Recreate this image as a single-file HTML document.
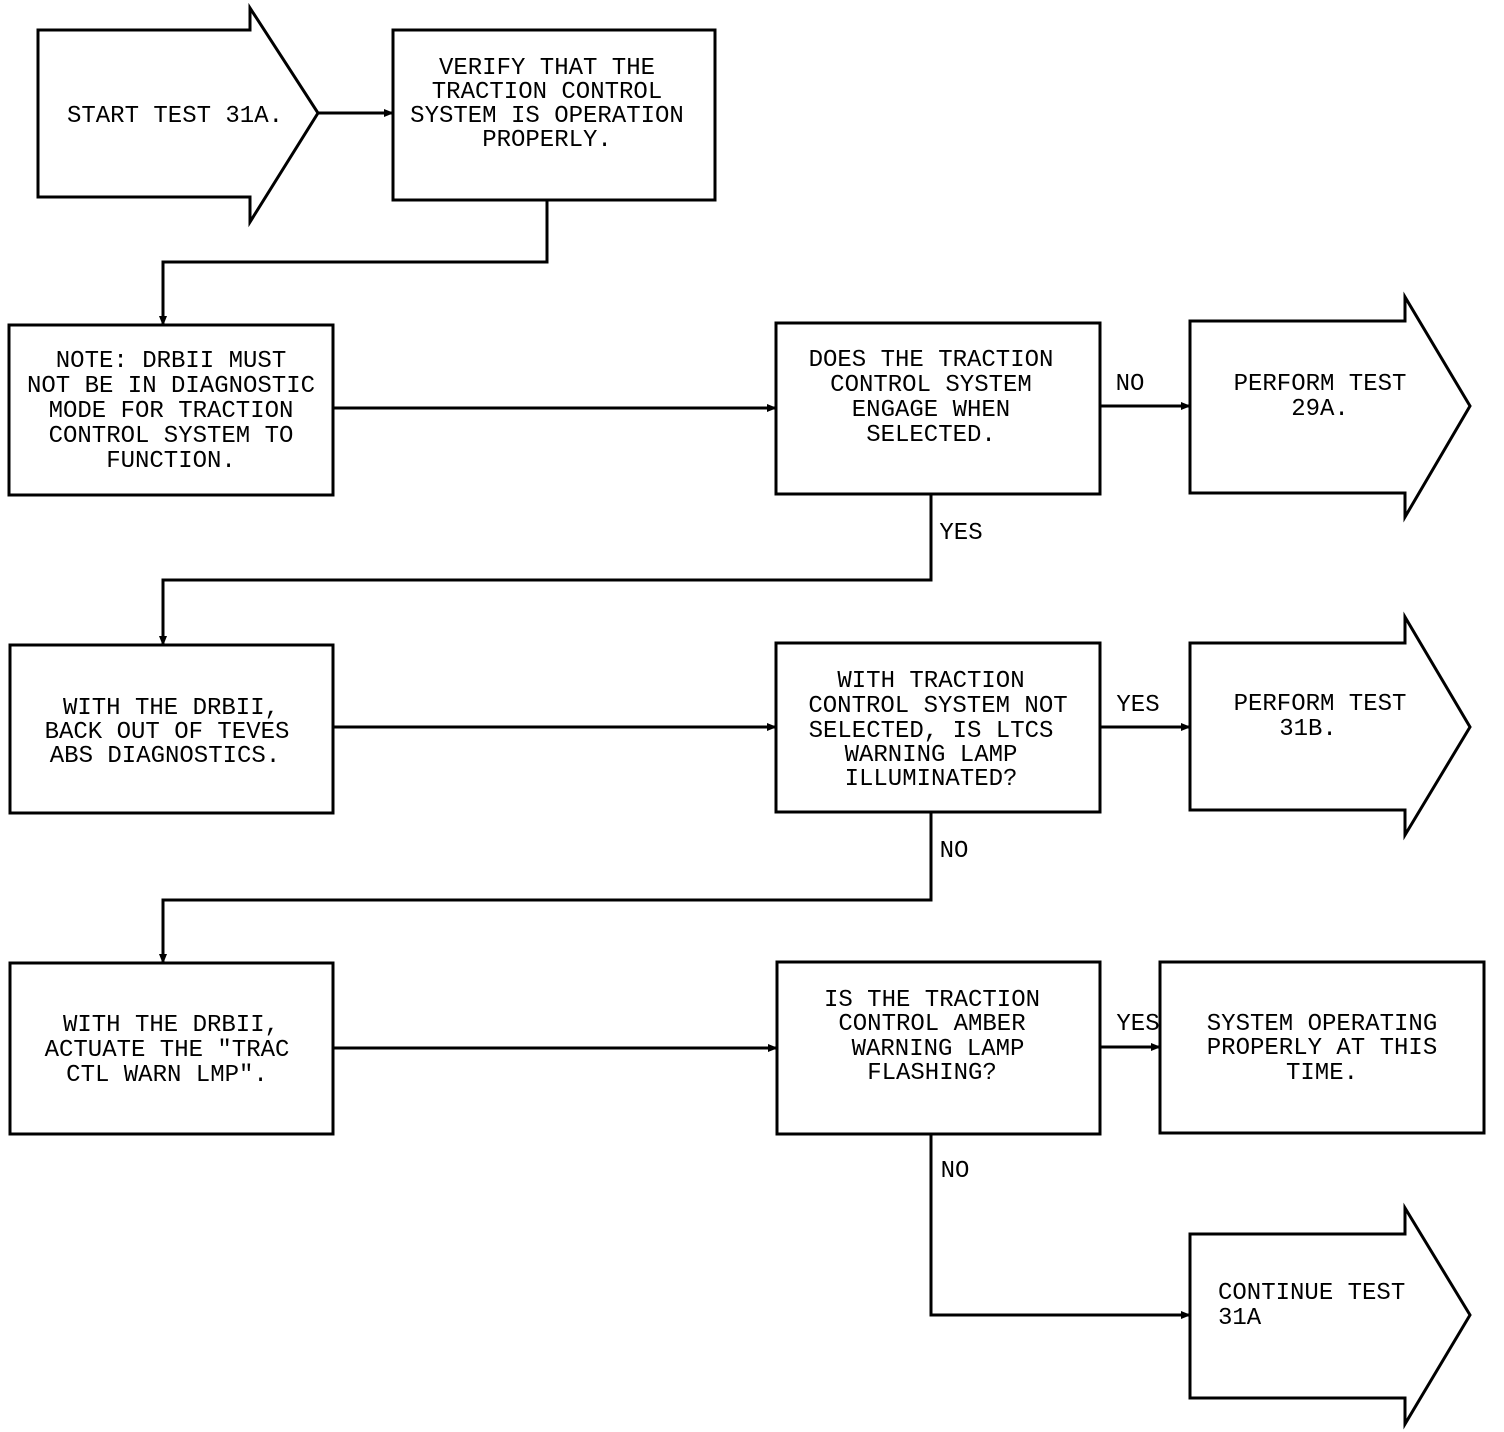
<!DOCTYPE html>
<html><head><meta charset="utf-8"><style>
html,body{margin:0;padding:0;background:#fff}
svg{display:block}
text{font-family:"Liberation Mono",monospace;font-size:24px;fill:#000;text-anchor:middle}
</style></head><body>
<svg width="1504" height="1432" viewBox="0 0 1504 1432" xmlns="http://www.w3.org/2000/svg">
<defs><marker id="a" markerWidth="10" markerHeight="8" refX="9" refY="4" orient="auto" markerUnits="userSpaceOnUse"><path d="M0,0 L10,4 L0,8z" fill="#000"/></marker></defs>
<g fill="none" stroke="#000" stroke-width="3">
<path d="M38,30 H250 V8 L318,113 L250,222 V197 H38 Z"/>
<rect x="393" y="30" width="322" height="170"/>
<rect x="9" y="325" width="324" height="170"/>
<rect x="776" y="323" width="324" height="171"/>
<path d="M1190,321 H1405 V297 L1470,406 L1405,517 V493 H1190 Z"/>
<rect x="10" y="645" width="323" height="168"/>
<rect x="776" y="643" width="324" height="169"/>
<path d="M1190,643 H1405 V617 L1470,727 L1405,835 V810 H1190 Z"/>
<rect x="10" y="963" width="323" height="171"/>
<rect x="777" y="962" width="323" height="172"/>
<rect x="1160" y="962" width="324" height="171"/>
<path d="M1190,1234 H1405 V1208 L1470,1315 L1405,1424 V1398 H1190 Z"/>
</g>
<g fill="none" stroke="#000" stroke-width="3" marker-end="url(#a)">
<path d="M318,113 H393"/>
<path d="M547,200 V262 H163 V325"/>
<path d="M333,408 H776"/>
<path d="M1100,406 H1190"/>
<path d="M931,494 V580 H163 V645"/>
<path d="M333,727 H776"/>
<path d="M1100,727 H1190"/>
<path d="M931,812 V900 H163 V963"/>
<path d="M333,1048 H777"/>
<path d="M1100,1047 H1160"/>
<path d="M931,1134 V1315 H1190"/>
</g>
<text x="175" y="122">START TEST 31A.</text>
<text x="547" y="74">VERIFY THAT THE</text>
<text x="547" y="98">TRACTION CONTROL</text>
<text x="547" y="122">SYSTEM IS OPERATION</text>
<text x="547" y="146">PROPERLY.</text>
<text x="171" y="367">NOTE:  DRBII MUST</text>
<text x="171" y="392">NOT BE IN DIAGNOSTIC</text>
<text x="171" y="417">MODE FOR TRACTION</text>
<text x="171" y="442">CONTROL SYSTEM TO</text>
<text x="171" y="467">FUNCTION.</text>
<text x="931" y="366">DOES THE TRACTION</text>
<text x="931" y="391">CONTROL SYSTEM</text>
<text x="931" y="416">ENGAGE WHEN</text>
<text x="931" y="441">SELECTED.</text>
<text x="1130" y="390">NO</text>
<text x="1320" y="390">PERFORM TEST</text>
<text x="1320" y="415">29A.</text>
<text x="961" y="539">YES</text>
<text x="171" y="714">WITH THE DRBII,</text>
<text x="167" y="738">BACK OUT OF TEVES</text>
<text x="165" y="762">ABS DIAGNOSTICS.</text>
<text x="931" y="687">WITH TRACTION</text>
<text x="938" y="712">CONTROL SYSTEM NOT</text>
<text x="931" y="737">SELECTED, IS LTCS</text>
<text x="931" y="761">WARNING LAMP</text>
<text x="931" y="785">ILLUMINATED?</text>
<text x="1138" y="711">YES</text>
<text x="1320" y="710">PERFORM TEST</text>
<text x="1308" y="735">31B.</text>
<text x="954" y="857">NO</text>
<text x="171" y="1031">WITH THE DRBII,</text>
<text x="167" y="1056">ACTUATE THE "TRAC</text>
<text x="167" y="1081">CTL WARN LMP".</text>
<text x="932" y="1006">IS THE TRACTION</text>
<text x="932" y="1030">CONTROL AMBER</text>
<text x="938" y="1055">WARNING LAMP</text>
<text x="932" y="1079">FLASHING?</text>
<text x="1138" y="1030">YES</text>
<text x="1322" y="1030">SYSTEM OPERATING</text>
<text x="1322" y="1054">PROPERLY AT THIS</text>
<text x="1322" y="1079">TIME.</text>
<text x="955" y="1177">NO</text>
<text x="1218" y="1299" style="text-anchor:start">CONTINUE TEST</text>
<text x="1218" y="1324" style="text-anchor:start">31A</text>
</svg>
</body></html>
